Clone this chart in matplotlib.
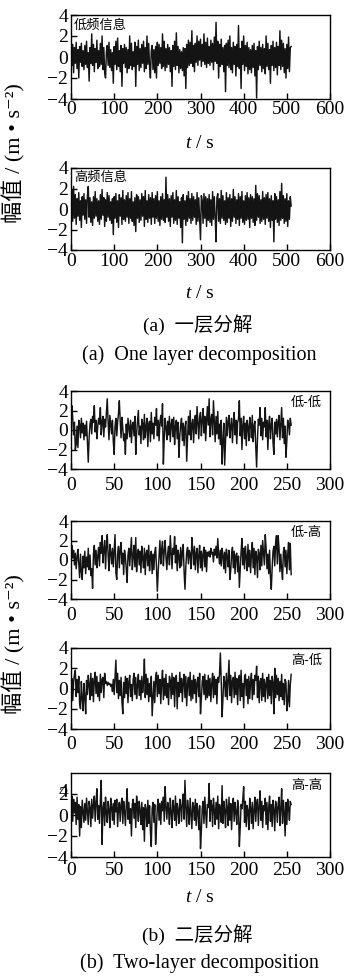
import matplotlib
matplotlib.use("Agg")
import matplotlib.pyplot as plt
from matplotlib.transforms import blended_transform_factory
import numpy as np

plt.rcParams['font.family'] = ['Liberation Serif', 'Noto Sans CJK SC', 'DejaVu Sans']
plt.rcParams['mathtext.fontset'] = 'custom'
plt.rcParams['mathtext.rm'] = 'Liberation Serif'
plt.rcParams['mathtext.it'] = 'Liberation Serif:italic'
plt.rcParams['axes.unicode_minus'] = True

# ---------------- data (values in tenths of m/s^2) ----------------
t_one = np.arange(0, 512, 2)      # one-layer decomposition time (s)
t_two = np.arange(0, 256, 1)      # two-layer decomposition time (s)

low_info = [
    25, -8, 12, -15, 9, -6, 14, -11, 7, -20, 10, -5, 13, -9, 6, -12,
    11, -7, 15, -10, 4, -23, 9, -6, 22, -8, 12, -14, 8, -5, 16, -11,
    6, -9, 13, -7, 20, -12, 9, -15, -20, 5, 11, -8, 14, -10, 7, -13,
    4, -25, 10, -7, 15, -12, 18, -9, 6, -14, 11, -28, 8, -6, 12, -10,
    9, -15, 7, -11, 20, -8, 13, -12, 5, -9, 14, -28, 10, -7, 16, -13,
    8, -10, 12, -6, 15, -14, 9, -11, 20, -7, 13, -9, -20, 6, 11, -12,
    7, -15, 10, -20, 14, -8, 12, -6, 9, -11, 22, -9, 15, -13, 8, -10,
    12, -7, 9, -14, 6, -28, 11, -9, 15, -12, 23, -8, 10, -15, 7, -11,
    5, -13, 9, -18, 8, -30, 12, -10, 16, -8, 14, -6, 25, -9, 11, -14,
    13, -5, 20, -8, 15, -3, 17, -9, 12, -4, 22, -7, 14, -10, 18, -6,
    10, -8, 16, -5, 13, -12, 19, -4, 33, -6, 15, -20, 12, -9, 17, -7,
    9, -14, 11, -33, 13, -8, 16, -10, 20, -12, 9, -15, 14, -7, 10, -18,
    12, -9, 30, -11, 8, -30, 15, -7, 20, -13, 11, -9, 14, -16, 9, -12,
    7, -15, 11, -10, 13, -18, 6, -39, 10, -12, 15, -8, 9, -14, 12, -11,
    8, -16, 20, -9, 13, -12, 7, -25, 11, -8, 15, -13, 9, -10, 14, -17,
    10, -8, 25, -12, 16, -9, 13, -15, 8, -20, 12, -11, 19, -14, 9, 10,
]

high_info = [
    5, 18, -12, 22, -9, 14, -15, 10, -7, 16, -11, 8, -18, 12, -6, 15,
    -10, 9, -14, 13, 22, -8, 11, -13, 7, -16, 12, -9, 17, -7, 10, -12,
    8, -15, 14, -10, 19, -6, 11, -17, 9, -12, 16, -8, 13, -11, 7, -14,
    10, -25, 12, -9, 15, -13, 8, -18, 14, -7, 11, -15, 18, -10, 9, -12,
    13, -8, 16, -14, 10, -9, 17, -12, 7, -16, 11, -22, 14, -9, 12, -13,
    9, -11, 15, -7, 12, -17, 18, -10, 8, -13, 14, -9, 11, -15, 16, -8,
    10, -14, 13, -9, 17, -12, 8, -16, 12, -10, 15, -11, 9, -13, 31, -8,
    14, -12, 10, -17, 13, -8, 16, -14, 9, -11, 18, -15, 12, -9, 7, -18,
    11, -33, 14, -10, 8, -16, 13, -12, 17, -9, 10, -14, 15, -11, 12, -8,
    9, -15, 16, -12, 11, -10, -30, 13, 8, -14, 15, -9, 12, -17, 10, -11,
    14, -13, 9, -16, 17, -10, 12, -8, -32, 11, 15, -12, 10, -14, 18, -9,
    13, -11, 8, -15, 16, -13, 11, -9, 14, -17, 10, -12, 19, -8, 12, -14,
    9, -10, 15, -16, 12, -9, 17, -13, 8, -15, 13, -11, 16, -10, 11, -18,
    14, -9, 12, -13, 10, -16, 23, -11, 15, -8, 13, -14, 9, -12, 17, -10,
    11, -15, 14, -9, 16, -12, 10, -18, 13, -11, 8, -32, 15, -10, 12, -13,
    9, -16, 17, -11, 25, -9, 13, -14, 10, -12, 15, -17, 8, -10, 12, 3,
]

low_low = [
    3, 25, 12, -5, 8, -20, -15, 4, -18, 10, 6, -8, 12, -3, 7, -10,
    5, -6, 9, -12, -33, -8, 6, 11, -4, 14, 8, 25, -2, 10, -9, 4,
    12, 6, 23, -5, 9, 14, -7, 11, 3, 18, 32, 8, -10, 15, 6, -4,
    10, -12, -25, 4, 12, -6, 8, 17, 30, 9, -8, 13, 2, -11, -4, -25,
    6, -9, 12, 3, -7, 10, -13, 5, 8, -6, 14, -25, -3, 9, 20, -5,
    4, -14, 11, 7, -10, 16, -8, 3, 12, -17, 6, 9, -12, 18, -4, 7,
    -9, 13, 5, 22, -6, 10, -11, 8, 15, 4, 27, -35, -8, 12, 3, -10,
    9, -5, 14, -12, 6, 11, -7, 13, -15, 4, 10, -9, 8, -28, -6, 5,
    12, -11, 7, -16, 3, 9, -32, -8, 14, -5, 20, -10, 6, 11, -13, 8,
    15, -4, 24, 7, -9, 13, 18, -6, 10, 22, -3, 14, -11, 9, 24, 5,
    32, -7, 11, 16, -5, 30, 8, -12, 14, -4, 19, -9, 6, -15, 10, -35,
    -12, 7, -36, -10, 13, -6, 9, 15, -8, 4, 12, -13, 6, 18, -5, 10,
    -14, 8, 11, 30, -6, 12, -20, 5, 14, -9, 7, -16, 10, 3, -11, 13,
    6, -8, 15, -12, 4, 9, -17, -38, -9, 11, 5, 23, -6, 12, -10, 8,
    3, 23, -7, 10, -20, 6, 14, -9, 5, 12, -13, -25, 8, -4, 11, -7,
    9, 15, -10, 6, 23, -8, 12, -14, 4, -28, -11, 10, 7, -5, 12, 5,
]

low_high = [
    8, 15, 2, 10, -5, 7, -9, 3, 11, -4, -18, 6, -12, -20, 4, -8,
    9, -14, 3, -7, 12, -10, 5, -16, -9, -29, 6, 15, -5, 10, -8, 4,
    13, -6, 18, 7, 25, -3, 11, 20, -9, 14, 26, 5, -11, 16, 8, -4,
    12, -7, 9, 26, -13, -20, 6, 14, -8, 11, 18, -4, 7, -15, 10, 3,
    -9, -23, 5, 12, -6, 8, 23, -10, 4, 15, -7, 23, -12, 6, 11, -5,
    9, -13, 14, 2, -8, 12, -15, 7, 10, -6, 15, -11, 4, 9, -14, 6,
    -10, 8, 13, -7, -32, -12, 5, 20, -4, 11, 19, -6, 9, 20, 3, -10,
    7, 14, -5, 25, 8, -9, 12, 6, 24, -3, 15, -11, 10, 4, -8, 13,
    -6, 9, 16, -12, -30, -7, 8, 13, -4, 10, 6, -9, 23, 11, -5, 14,
    -10, 7, 12, -13, 5, 15, -8, 9, -11, 6, 13, -7, 10, -12, 8, 4,
    9, 3, 12, 6, 8, -2, 11, 5, 14, 2, 22, 7, -4, 10, -6, 12,
    5, -9, 8, -13, 11, 4, -7, 10, -20, -11, 6, 13, -8, 9, -14, 5,
    7, -12, 4, -28, -10, 8, 22, -5, 12, -9, 14, 3, -11, 16, -7, 10,
    -13, 6, 18, -8, 12, -15, 9, 4, -18, 11, 7, -10, 15, -6, 20, 8,
    -5, 26, 12, -9, 6, -14, 10, -17, -30, -8, 9, 14, -6, 17, 25, -4,
    25, 11, -12, 6, -9, -20, 8, 13, -7, 10, -14, 5, 18, -10, 17, -15,
]

high_low = [
    -5, 10, -12, 6, 14, 18, -8, 9, -4, 12, -15, -20, 7, -10, -22, 5,
    -9, -25, 8, -6, 13, 4, -11, 15, -7, 10, -13, 9, 16, -5, 12, -8,
    6, -12, 14, -4, 9, 11, -9, 15, 5, 7, 3, 6, 4, 5, 2, 4,
    -3, 9, -6, 12, 28, -4, 15, -10, 8, -7, 11, -13, -25, 6, -9, 12,
    -5, 10, -14, 7, 13, -8, 4, -12, 9, 15, -6, 11, -10, 3, 14, -7,
    8, -11, 12, -4, 6, 29, -9, 14, -6, 10, -13, 5, -8, 12, -27, -10,
    7, -14, 11, 16, -8, 13, -5, 9, -15, 6, 18, -11, 10, -7, 14, -9,
    5, -16, 12, 8, -10, 15, -6, 11, -18, 9, 13, -20, 6, -8, 16, -4,
    10, -13, 7, 14, -9, 12, -17, 5, 11, -7, 16, -12, 8, -10, 13, -5,
    9, -14, 6, 11, -8, 15, -25, -10, 7, 12, -6, 14, -11, 8, -9, 13,
    -7, 10, -13, 5, 15, -9, 12, -6, 9, -15, 11, 6, 14, 35, 8, -28,
    -10, 12, 6, -8, 15, -11, 9, 28, -7, 13, -14, 8, 11, -9, 16, -6,
    10, -16, 7, 13, -12, 18, -8, 5, -19, 11, 14, -7, 9, -15, 12, -10,
    6, 15, -11, 9, -6, 13, 8, 22, -9, 12, -14, 7, 10, -12, 15, -8,
    9, -13, 5, 11, -10, 14, -7, 8, -15, 12, 6, -25, 20, -9, 13, -6,
    10, -12, 7, -8, 14, -11, 5, -16, 9, 6, -22, -13, 8, -18, 4, 14,
]

high_high = [
    5, 18, -6, 15, 2, 12, -9, 17, -4, 10, -20, 8, -12, 14, 3, -7,
    11, -5, 16, 4, -9, 13, 7, -11, 15, -3, 10, 18, -6, 12, 25, -4,
    9, -8, 14, 33, -28, 6, 12, -10, 17, 2, -7, 13, 5, -12, 16, 8,
    -5, 11, -9, 14, 3, 15, -11, 7, 12, -6, 10, 16, -8, 13, 4, -10,
    9, 25, -4, 12, -8, 6, -20, 10, 15, -3, 11, -12, 18, 7, -6, 13,
    4, -9, 12, -14, 7, -25, 10, 5, -11, 14, -8, 9, -16, -30, 6, 12,
    -7, 10, -28, -12, 8, 15, -5, 11, -9, 13, 4, 17, -6, 27, 8, -4,
    12, 6, -9, 16, 3, -12, 14, 7, -5, 18, -10, 11, 5, -8, 15, 9,
    -6, 13, 20, -4, 33, 7, -11, 14, 5, -9, 16, 2, -13, 12, 8, -5,
    15, -10, 11, 4, -14, 9, -32, -15, 6, 13, -8, 17, 3, -12, 10, 7,
    30, -6, 14, 9, -11, 16, 5, -9, 12, -4, 18, -13, 10, 6, -7, 28,
    -8, 13, 4, -12, 15, 7, -10, 17, -5, 11, -14, 9, 16, -6, 12, 3,
    -9, 14, 8, -30, -12, 10, 6, 15, 27, -7, 13, -11, 9, 4, -14, 16,
    7, -8, 12, -13, 5, 17, -6, 11, 15, -10, 8, 23, -5, 13, -12, 9,
    4, 16, -9, 12, -14, 7, 18, -6, 10, -11, 14, 5, -15, 13, 8, -7,
    11, 17, -10, 6, 25, -8, 14, 3, -20, 12, -9, 15, 7, -5, 13, 10,
]

panel_names = ['低频信息', '高频信息', '低-低', '低-高', '高-低', '高-高']
xticks_one = [0, 100, 200, 300, 400, 500, 600]
xticks_two = [0, 50, 100, 150, 200, 250, 300]
yticks = [-4, -2, 0, 2, 4]

# ---------------- layout ----------------
W, H = 348, 977
fig = plt.figure(figsize=(W / 100, H / 100), dpi=100)

def rect(top, bottom):
    return [71 / W, 1 - bottom / H, (330 - 71) / W, (bottom - top) / H]

specs = [
    (t_one, low_info, xticks_one, 15, 99, 'left', 1.5),
    (t_one, high_info, xticks_one, 168, 250, 'left', 2.5),
    (t_two, low_low, xticks_two, 391, 469, 'right', 6),
    (t_two, low_high, xticks_two, 521, 599, 'right', 6),
    (t_two, high_low, xticks_two, 648, 729, 'right', 5),
    (t_two, high_high, xticks_two, 773, 857, 'right', 3.5),
]

LINE = '#141414'
for i, (t, vals, xt, top, bot, lpos, xpad) in enumerate(specs):
    ax = fig.add_axes(rect(top, bot))
    ax.plot(t, np.array(vals) / 10.0, color=LINE, lw=1.05)
    ax.set_xlim(xt[0], xt[-1])
    ax.set_ylim(-4, 4)
    ax.set_xticks(xt)
    if i == 5:
        ax.set_yticks([-4, -2, 0, 2])
        tr = blended_transform_factory(ax.transAxes, ax.transData)
        ax.text(-0.012, 2.15, '4', transform=tr, ha='right', va='center', fontsize=14)
    else:
        ax.set_yticks(yticks)
    ax.tick_params(axis='both', direction='in', length=4, width=1,
                   labelsize=14, top=False, right=False)
    ax.tick_params(axis='x', pad=xpad)
    ax.tick_params(axis='y', pad=2)
    for s in ax.spines.values():
        s.set_linewidth(1.0)
    if lpos == 'left':
        ax.text(0.012, 0.88, panel_names[i], transform=ax.transAxes,
                ha='left', va='center', fontsize=9.5, family='Noto Sans CJK SC')
    else:
        ax.text(0.969, 0.85, panel_names[i], transform=ax.transAxes,
                ha='right', va='center', fontsize=9.5, family='Noto Sans CJK SC')

# x labels
for yc in (143, 293, 897):
    fig.text(200 / W, 1 - yc / H, '$t$ / s', ha='center', va='center', fontsize=14)

# y labels (plain text, superscript via Unicode so CJK glyphs fall back correctly)
ylab = '幅值 / (m • s⁻²)'
fig.text(14 / W, 1 - 153 / H, ylab, rotation=90, ha='center', va='center', fontsize=16)
fig.text(14 / W, 1 - 644 / H, ylab, rotation=90, ha='center', va='center', fontsize=16)

# captions
fig.text(198 / W, 1 - 325 / H, '(a)  一层分解', ha='center', va='center', fontsize=14)
fig.text(199 / W, 1 - 355 / H, '(a)  One layer decomposition', ha='center', va='center', fontsize=14.5)
fig.text(197 / W, 1 - 935 / H, '(b)  二层分解', ha='center', va='center', fontsize=14)
fig.text(199 / W, 1 - 963 / H, '(b)  Two-layer decomposition', ha='center', va='center', fontsize=14.5)

fig.savefig('out.png', dpi=100)
